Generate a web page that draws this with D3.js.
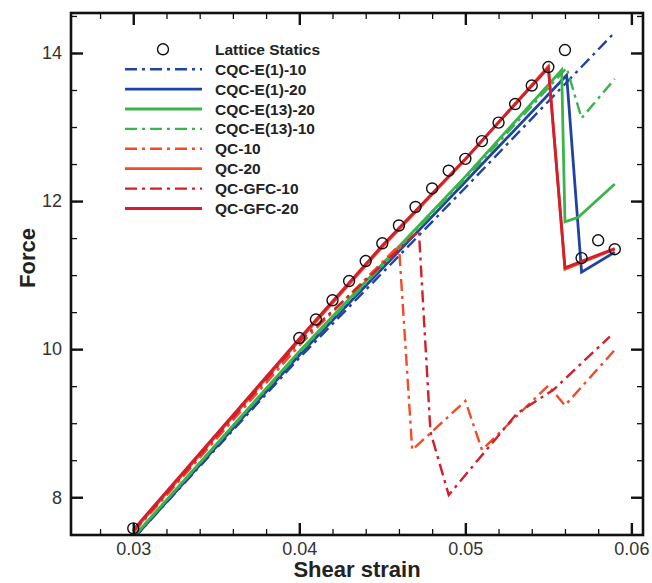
<!DOCTYPE html>
<html><head><meta charset="utf-8">
<script src="https://cdn.jsdelivr.net/npm/d3@7"></script>
<style>body{margin:0;background:#fff}svg{display:block}</style>
</head><body>
<svg id="c" width="652" height="583"></svg>
<script>
// ---- data ----
const xTicks = [0.03, 0.04, 0.05, 0.06];
const yTicks = [8, 10, 12, 14];
const latticeX = [0.030,0.040,0.041,0.042,0.043,0.044,0.045,0.046,0.047,0.048,0.049,0.050,0.051,0.052,0.053,0.054,0.055,0.056,0.057,0.058,0.059];
const latticeY = [7.58,10.15,10.40,10.66,10.92,11.19,11.43,11.67,11.92,12.17,12.41,12.57,12.81,13.06,13.31,13.56,13.81,14.04,11.23,11.47,11.35];
const cqcE1_10X = [0.030, 0.040, 0.050, 0.059];
const cqcE1_10Y = [7.44, 9.88, 12.18, 14.28];
const cqcE1_20X = [0.030, 0.040, 0.050, 0.0561, 0.057, 0.059];
const cqcE1_20Y = [7.44, 9.92, 12.26, 13.70, 11.04, 11.31];
const cqcE13_20X = [0.030, 0.040, 0.050, 0.0558, 0.056, 0.0568, 0.059];
const cqcE13_20Y = [7.46, 9.97, 12.33, 13.77, 11.72, 11.78, 12.23];
const cqcE13_10X = [0.030, 0.040, 0.050, 0.0561, 0.057, 0.059];
const cqcE13_10Y = [7.46, 9.95, 12.30, 13.80, 13.12, 13.65];
const qc10X = [0.030, 0.040, 0.046, 0.0468, 0.050, 0.051, 0.055, 0.056, 0.059];
const qc10Y = [7.52, 10.05, 11.40, 8.64, 9.30, 8.64, 9.51, 9.24, 9.99];
const qc20X = [0.030, 0.040, 0.045, 0.050, 0.055, 0.056, 0.059];
const qc20Y = [7.54, 10.12, 11.38, 12.56, 13.82, 11.08, 11.35];
const qcgfc10X = [0.030, 0.040, 0.0472, 0.0479, 0.049, 0.0531, 0.0553, 0.0587];
const qcgfc10Y = [7.54, 10.10, 11.60, 8.88, 8.03, 9.13, 9.45, 10.17];
const qcgfc20X = [0.030, 0.040, 0.045, 0.050, 0.055, 0.056, 0.059];
const qcgfc20Y = [7.56, 10.14, 11.40, 12.57, 13.80, 11.10, 11.36];
const seriesNames = ["CQC-E(1)-10","CQC-E(1)-20","CQC-E(13)-20","CQC-E(13)-10","QC-10","QC-20","QC-GFC-10","QC-GFC-20"];

// ---- styles ----
const BLUE="#1f43a3", GREEN="#3bb44a", ORANGE="#f24b2a", CRIMSON="#d21f2b";
const DASHDOT="12,5,3,5";
const series = [
  {name:seriesNames[0], x:cqcE1_10X, y:cqcE1_10Y, color:BLUE, dash:DASHDOT},
  {name:seriesNames[1], x:cqcE1_20X, y:cqcE1_20Y, color:BLUE, dash:null},
  {name:seriesNames[2], x:cqcE13_20X, y:cqcE13_20Y, color:GREEN, dash:null},
  {name:seriesNames[3], x:cqcE13_10X, y:cqcE13_10Y, color:GREEN, dash:DASHDOT},
  {name:seriesNames[4], x:qc10X, y:qc10Y, color:ORANGE, dash:DASHDOT},
  {name:seriesNames[5], x:qc20X, y:qc20Y, color:ORANGE, dash:null},
  {name:seriesNames[6], x:qcgfc10X, y:qcgfc10Y, color:CRIMSON, dash:DASHDOT},
  {name:seriesNames[7], x:qcgfc20X, y:qcgfc20Y, color:CRIMSON, dash:null}
];

const L=71, R=643, T=13, B=535;
const FONT="Liberation Sans, Arial, sans-serif";
const svg = d3.select("#c");
const x = d3.scaleLinear().domain([0.02625, 0.0607]).range([L, R]);
const y = d3.scaleLinear().domain([7.49, 14.54]).range([B, T]);

svg.append("defs").append("clipPath").attr("id","clip")
  .append("rect").attr("x",L).attr("y",T).attr("width",R-L).attr("height",B-T);

const line = d3.line().x(d=>x(d[0])).y(d=>y(d[1]));
const g = svg.append("g").attr("clip-path","url(#clip)");
series.forEach(s=>{
  const pts = s.x.map((v,i)=>[v, s.y[i]]);
  g.append("path").datum(pts).attr("d",line)
    .attr("fill","none").attr("stroke",s.color)
    .attr("stroke-width", s.dash?2.4:2.8)
    .attr("stroke-linejoin","miter")
    .attr("stroke-dasharray", s.dash);
});
g.selectAll("circle.ls").data(latticeX.map((v,i)=>[v,latticeY[i]])).enter()
  .append("circle").attr("class","ls")
  .attr("cx",d=>x(d[0])).attr("cy",d=>y(d[1])).attr("r",5.5)
  .attr("fill","none").attr("stroke","#111").attr("stroke-width",1.4);

// ---- axes (ticks inward on all sides) ----
const xMinor = d3.range(0.026, 0.0607, 0.002).filter(v=>v>=0.02625);
const yMinor = d3.range(7.5, 14.55, 0.5);
const specs = [
  [d3.axisBottom(x).tickValues(xMinor).tickSize(-6).tickFormat(""), `translate(0,${B})`, 1.3],
  [d3.axisTop(x).tickValues(xMinor).tickSize(-6).tickFormat(""), `translate(0,${T})`, 1.3],
  [d3.axisLeft(y).tickValues(yMinor).tickSize(-6).tickFormat(""), `translate(${L},0)`, 1.3],
  [d3.axisRight(y).tickValues(yMinor).tickSize(-6).tickFormat(""), `translate(${R},0)`, 1.3],
  [d3.axisBottom(x).tickValues(xTicks).tickSize(-12).tickFormat(d3.format(".2f")).tickPadding(7), `translate(0,${B})`, 2.4],
  [d3.axisTop(x).tickValues(xTicks).tickSize(-12).tickFormat(""), `translate(0,${T})`, 2.4],
  [d3.axisLeft(y).tickValues(yTicks).tickSize(-12).tickFormat(d3.format("d")).tickPadding(9), `translate(${L},0)`, 2.4],
  [d3.axisRight(y).tickValues(yTicks).tickSize(-12).tickFormat(""), `translate(${R},0)`, 2.4]
];
specs.forEach(([a,t,w])=>{
  const ag = svg.append("g").attr("transform",t).call(a);
  ag.select(".domain").remove();
  ag.selectAll(".tick line").attr("stroke","#111").attr("stroke-width",w);
  ag.selectAll("text").attr("font-family",FONT).attr("font-size",18).attr("fill","#333");
});

svg.append("rect").attr("x",L).attr("y",T).attr("width",R-L).attr("height",B-T)
  .attr("fill","none").attr("stroke","#111").attr("stroke-width",2.6);

// axis titles
svg.append("text").attr("x",357).attr("y",577).attr("text-anchor","middle")
  .attr("font-family",FONT).attr("font-weight","bold").attr("font-size",22).attr("fill","#222")
  .text("Shear strain");
svg.append("text").attr("transform","translate(35,258) rotate(-90)").attr("text-anchor","middle")
  .attr("font-family",FONT).attr("font-weight","bold").attr("font-size",22).attr("fill","#222")
  .text("Force");

// legend
const lg = svg.append("g");
const legRows = [{name:"Lattice Statics", marker:true}].concat(series);
legRows.forEach((s,i)=>{
  const yy = 49.3 + i*19.9;
  if(s.marker){
    lg.append("circle").attr("cx",163).attr("cy",yy).attr("r",5.5).attr("fill","none").attr("stroke","#111").attr("stroke-width",1.4);
  } else {
    lg.append("line").attr("x1",125).attr("x2",202).attr("y1",yy).attr("y2",yy)
      .attr("stroke",s.color).attr("stroke-width",s.dash?2.4:2.8).attr("stroke-dasharray",s.dash);
  }
  lg.append("text").attr("x",215).attr("y",yy+5.5).attr("font-family",FONT)
    .attr("font-weight","bold").attr("font-size",15.5).attr("fill","#222").text(s.name);
});
</script>
</body></html>
